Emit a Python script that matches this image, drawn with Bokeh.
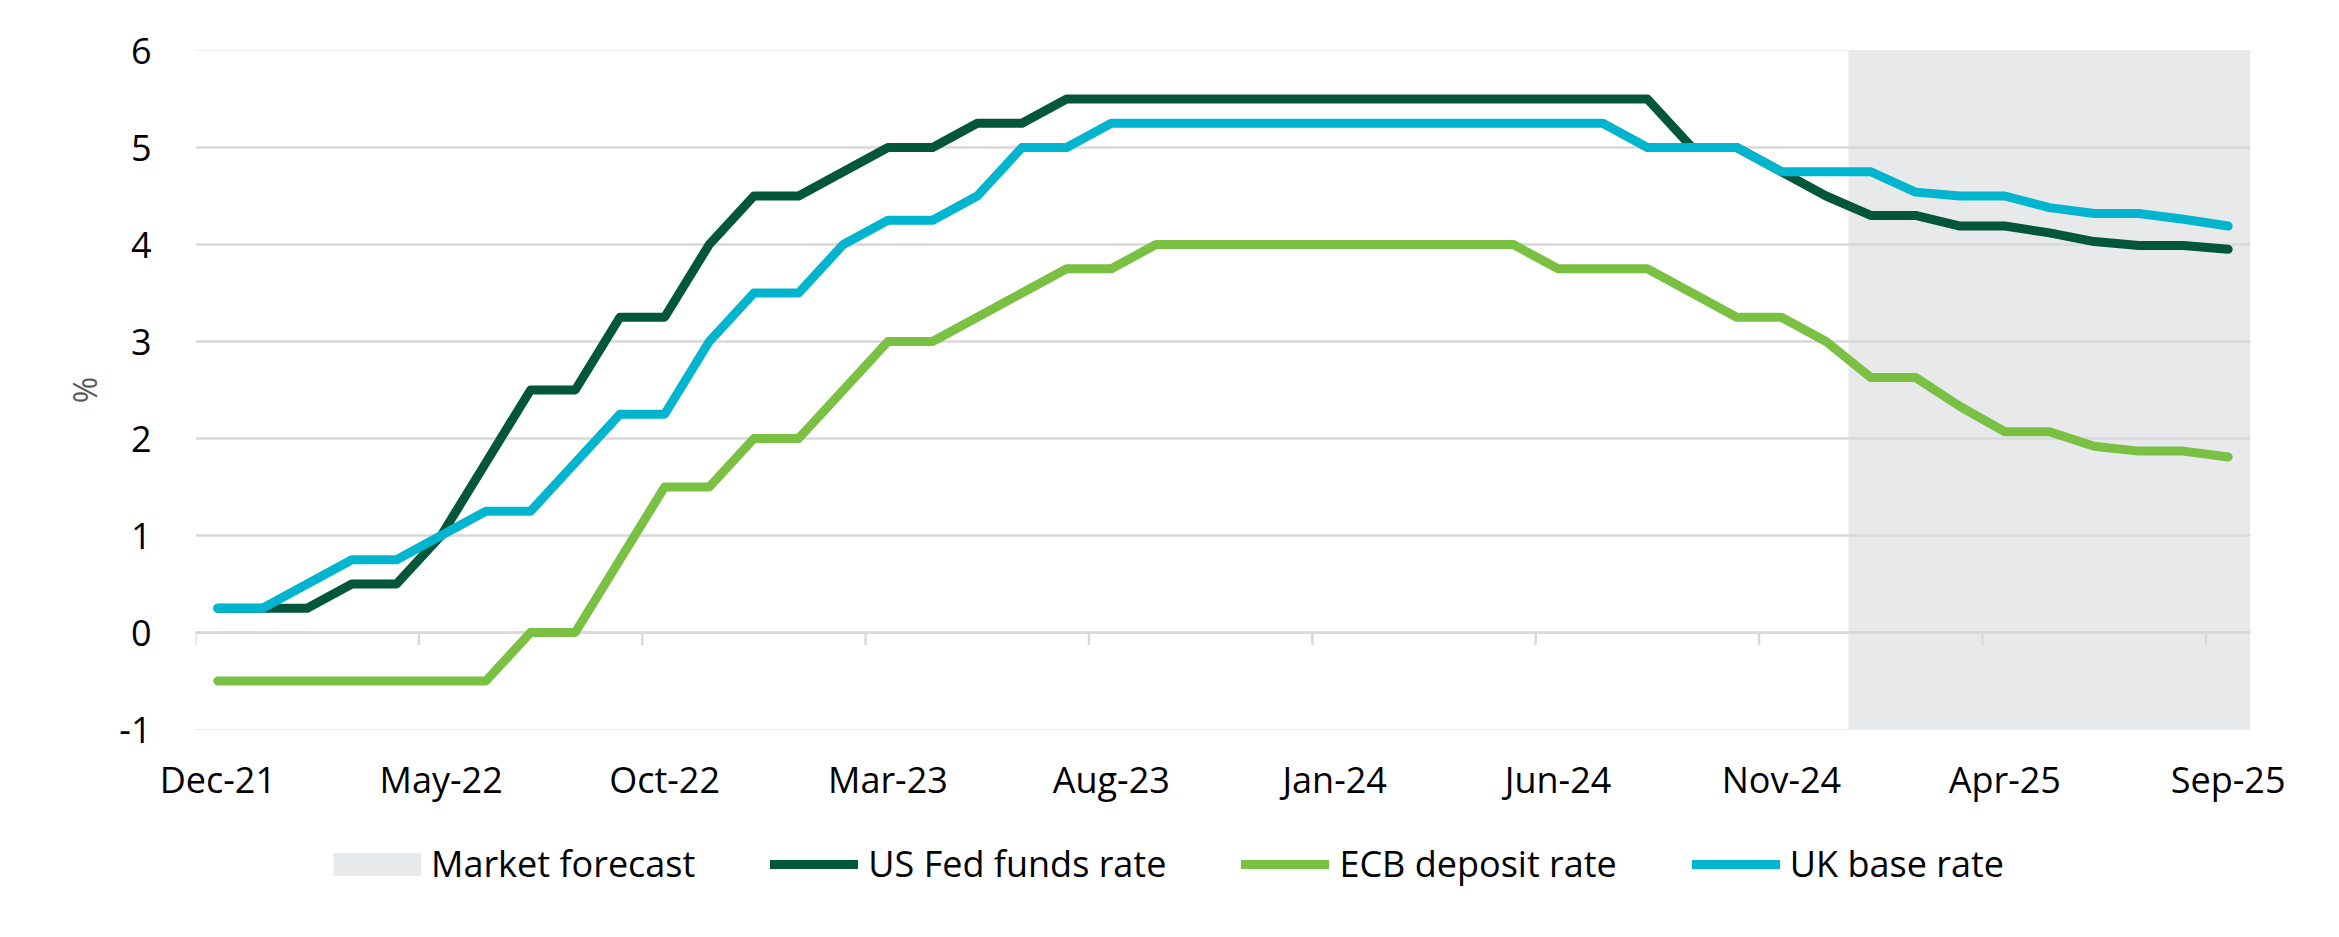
from bokeh.plotting import figure
from bokeh.layouts import column
from bokeh.models import Range1d, FixedTicker, Legend, LegendItem, ColumnDataSource
from bokeh.embed import file_html
from bokeh.resources import INLINE

# ---------------- data ----------------
months = ["Dec-21", "Jan-22", "Feb-22", "Mar-22", "Apr-22", "May-22", "Jun-22", "Jul-22",
          "Aug-22", "Sep-22", "Oct-22", "Nov-22", "Dec-22", "Jan-23", "Feb-23", "Mar-23",
          "Apr-23", "May-23", "Jun-23", "Jul-23", "Aug-23", "Sep-23", "Oct-23", "Nov-23",
          "Dec-23", "Jan-24", "Feb-24", "Mar-24", "Apr-24", "May-24", "Jun-24", "Jul-24",
          "Aug-24", "Sep-24", "Oct-24", "Nov-24", "Dec-24", "Jan-25", "Feb-25", "Mar-25",
          "Apr-25", "May-25", "Jun-25", "Jul-25", "Aug-25", "Sep-25"]

tick_months = ["Dec-21", "May-22", "Oct-22", "Mar-23", "Aug-23", "Jan-24", "Jun-24",
               "Nov-24", "Apr-25", "Sep-25"]

fed = [0.25, 0.25, 0.25, 0.5, 0.5, 1.0, 1.75, 2.5, 2.5, 3.25, 3.25, 4.0, 4.5, 4.5, 4.75,
       5.0, 5.0, 5.25, 5.25, 5.5, 5.5, 5.5, 5.5, 5.5, 5.5, 5.5, 5.5, 5.5, 5.5, 5.5, 5.5,
       5.5, 5.5, 5.0, 5.0, 4.75, 4.5, 4.30, 4.30, 4.19, 4.19, 4.12, 4.03, 3.99, 3.99, 3.95]

ecb = [-0.5, -0.5, -0.5, -0.5, -0.5, -0.5, -0.5, 0.0, 0.0, 0.75, 1.5, 1.5, 2.0, 2.0, 2.5,
       3.0, 3.0, 3.25, 3.5, 3.75, 3.75, 4.0, 4.0, 4.0, 4.0, 4.0, 4.0, 4.0, 4.0, 4.0, 3.75,
       3.75, 3.75, 3.5, 3.25, 3.25, 3.0, 2.63, 2.63, 2.33, 2.07, 2.07, 1.92, 1.87, 1.87, 1.81]

uk = [0.25, 0.25, 0.5, 0.75, 0.75, 1.0, 1.25, 1.25, 1.75, 2.25, 2.25, 3.0, 3.5, 3.5, 4.0,
      4.25, 4.25, 4.5, 5.0, 5.0, 5.25, 5.25, 5.25, 5.25, 5.25, 5.25, 5.25, 5.25, 5.25, 5.25,
      5.25, 5.25, 5.0, 5.0, 5.0, 4.75, 4.75, 4.75, 4.54, 4.5, 4.5, 4.38, 4.32, 4.32, 4.26, 4.19]

forecast_start = "Jan-25"
forecast_end = "Sep-25"

y_min, y_max = -1, 6
y_ticks = [-1, 0, 1, 2, 3, 4, 5, 6]
y_tick_labels = ["-1", "0", "1", "2", "3", "4", "5", "6"]

series_names = ["US Fed funds rate", "ECB deposit rate", "UK base rate"]
forecast_label = "Market forecast"

# positions of the month categories on the x scale
x_pos = list(range(len(months)))
tick_pos = [months.index(m) for m in tick_months]

# ---------------- styles ----------------
FONT = "Open Sans"
C_FED = "#02563A"
C_ECB = "#7AC143"
C_UK = "#00B5CD"
C_SHADE = "#E8E9EB"
C_GRID = "#D9D9D9"
LW = 9

W = 2339
H_MAIN = 814
H_LEG = 123

p = figure(x_range=Range1d(-0.5, len(months) - 0.5),
           y_range=Range1d(y_min, y_max),
           width=W, height=H_MAIN,
           output_backend="svg", toolbar_location=None,
           min_border_left=195, min_border_right=89,
           min_border_top=50, min_border_bottom=H_MAIN - 729)
p.outline_line_color = None
p.background_fill_color = "white"
p.border_fill_color = "white"

# grid
p.xgrid.visible = False
p.yaxis.ticker = FixedTicker(ticks=y_ticks)
p.ygrid.grid_line_color = C_GRID
p.ygrid.grid_line_width = 2.5

# forecast shading (from half a month before the first forecast month to half after the last)
shade_src = ColumnDataSource(dict(left=[months.index(forecast_start) - 0.5],
                                  right=[months.index(forecast_end) + 0.5],
                                  top=[y_max], bottom=[y_min]))
p.quad(left="left", right="right", top="top", bottom="bottom", source=shade_src,
       fill_color=C_SHADE, line_color=None, level="underlay")

# lines over the shading: frame edges and zero axis
p.hspan(y=[y_min, y_max], line_color=C_GRID, line_width=1.2, level="underlay")
p.hspan(y=[0], line_color="#D5D6D8", line_width=2.5, level="underlay")

# x tick marks hanging from the zero line at category boundaries
tick_src = ColumnDataSource(dict(x=[t - 0.5 for t in tick_pos],
                                 y0=[0] * len(tick_pos),
                                 y1=[-0.13] * len(tick_pos)))
p.segment(x0="x", x1="x", y0="y0", y1="y1", source=tick_src,
          line_color=C_GRID, line_width=2.5, level="underlay")

# series
p.line(x=x_pos, y=ecb, line_color=C_ECB, line_width=LW, line_join="round", line_cap="round")
p.line(x=x_pos, y=fed, line_color=C_FED, line_width=LW, line_join="round", line_cap="round")
p.line(x=x_pos, y=uk, line_color=C_UK, line_width=LW, line_join="round", line_cap="round")

# axes
p.xaxis.ticker = FixedTicker(ticks=tick_pos)
p.xaxis.major_label_overrides = {t: m for t, m in zip(tick_pos, tick_months)}
p.xaxis.axis_line_color = None
p.xaxis.major_tick_line_color = None
p.xaxis.minor_tick_line_color = None
p.xaxis.major_label_standoff = 19
p.xaxis.major_label_text_font = FONT
p.xaxis.major_label_text_font_size = "36px"
p.xaxis.major_label_text_color = "#000000"

p.yaxis.major_label_overrides = {t: l for t, l in zip(y_ticks, y_tick_labels)}
p.yaxis.axis_line_color = None
p.yaxis.major_tick_line_color = None
p.yaxis.minor_tick_line_color = None
p.yaxis.major_label_standoff = 38
p.yaxis.major_label_text_font = FONT
p.yaxis.major_label_text_font_size = "36px"
p.yaxis.major_label_text_color = "#000000"
p.yaxis.axis_label = "%"
p.yaxis.axis_label_standoff = 10
p.yaxis.axis_label_text_font = FONT
p.yaxis.axis_label_text_font_size = "32px"
p.yaxis.axis_label_text_font_style = "normal"
p.yaxis.axis_label_text_color = "#595959"

# ---------------- legend strip ----------------
pl = figure(x_range=Range1d(0, 1), y_range=Range1d(0, 1), width=W, height=H_LEG,
            output_backend="svg", toolbar_location=None,
            x_axis_type=None, y_axis_type=None, min_border=0)
pl.outline_line_color = None
pl.background_fill_color = "white"
pl.border_fill_color = "white"

# legend keys: one NaN point each, so nothing is drawn in the strip itself
nan = float("nan")
k_shade = pl.line(x=[nan], y=[nan], line_color=C_SHADE, line_width=23, line_cap="butt")
k_fed = pl.line(x=[nan], y=[nan], line_color=C_FED, line_width=9, line_cap="round")
k_ecb = pl.line(x=[nan], y=[nan], line_color=C_ECB, line_width=9, line_cap="round")
k_uk = pl.line(x=[nan], y=[nan], line_color=C_UK, line_width=9, line_cap="round")

# the strip's frame is aligned with the main frame (left edge at 195 px)
legend = Legend(items=[LegendItem(label=forecast_label, renderers=[k_shade]),
                       LegendItem(label=series_names[0], renderers=[k_fed]),
                       LegendItem(label=series_names[1], renderers=[k_ecb]),
                       LegendItem(label=series_names[2], renderers=[k_uk])],
                orientation="horizontal", location=(138, 49),
                glyph_width=88, glyph_height=30, label_standoff=10, spacing=75,
                padding=0, margin=0, border_line_color=None, background_fill_alpha=0,
                label_text_font=FONT, label_text_font_size="36px",
                label_text_color="#000000")
pl.add_layout(legend, "center")

layout = column(p, pl, spacing=0)
open("out.html", "w").write(file_html(layout, INLINE))
